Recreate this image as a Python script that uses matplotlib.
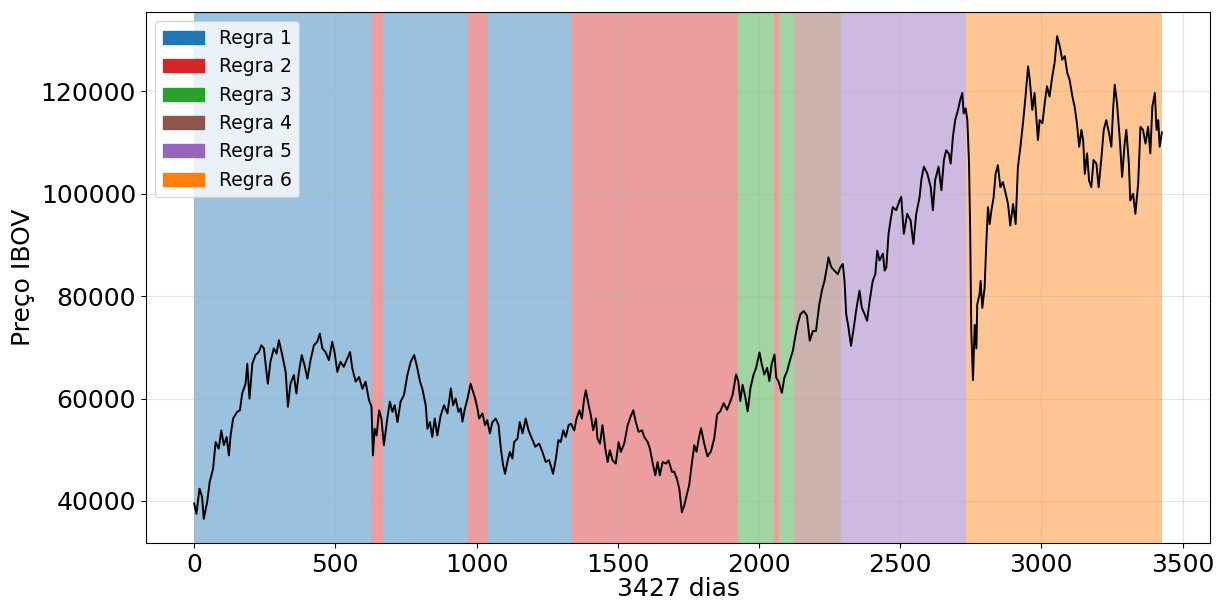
import matplotlib
matplotlib.use("Agg")
import matplotlib.pyplot as plt
from matplotlib.patches import Patch

# IBOV closing price sampled along the 3427-day window
days = [
    0, 8, 19, 28, 34, 46, 55, 67, 76, 87, 96, 105, 115, 123, 129, 138, 152, 162, 170, 182,
    188, 196, 206, 217, 229, 238, 247, 256, 261, 270, 282, 292, 300, 312, 324, 332, 341, 353,
    362, 371, 381, 391, 401, 412, 424, 436, 445, 454, 465, 477, 489, 497, 507, 518, 530, 542,
    552, 560, 572, 584, 596, 607, 619, 628, 633, 639, 646, 655, 663, 672, 684, 693, 702, 710,
    720, 731, 743, 755, 767, 779, 788, 800, 808, 820, 826, 835, 843, 852, 861, 873, 885, 897,
    909, 917, 926, 936, 944, 950, 959, 968, 979, 988, 995, 1003, 1009, 1021, 1030, 1038, 1047,
    1056, 1068, 1078, 1086, 1094, 1101, 1109, 1118, 1127, 1133, 1145, 1153, 1163, 1174, 1184,
    1196, 1208, 1222, 1233, 1245, 1257, 1271, 1281, 1290, 1298, 1307, 1316, 1326, 1334, 1346,
    1354, 1364, 1373, 1381, 1387, 1397, 1405, 1413, 1423, 1428, 1437, 1446, 1456, 1464, 1472,
    1482, 1493, 1503, 1511, 1523, 1535, 1547, 1555, 1564, 1574, 1586, 1594, 1606, 1614, 1623,
    1633, 1641, 1649, 1659, 1671, 1680, 1692, 1700, 1709, 1718, 1727, 1736, 1744, 1753, 1763,
    1771, 1779, 1787, 1795, 1807, 1818, 1830, 1842, 1852, 1863, 1875, 1887, 1899, 1907, 1919,
    1927, 1934, 1942, 1951, 1960, 1970, 1981, 1990, 2002, 2010, 2019, 2029, 2037, 2045, 2055,
    2061, 2069, 2081, 2090, 2100, 2111, 2120, 2128, 2137, 2147, 2159, 2170, 2180, 2191, 2202,
    2214, 2223, 2232, 2241, 2246, 2256, 2267, 2279, 2289, 2297, 2303, 2309, 2317, 2326, 2336,
    2344, 2356, 2364, 2374, 2383, 2392, 2403, 2412, 2419, 2427, 2439, 2445, 2451, 2459, 2466,
    2474, 2486, 2498, 2504, 2513, 2525, 2537, 2547, 2557, 2569, 2575, 2584, 2596, 2608, 2616,
    2624, 2636, 2646, 2655, 2663, 2672, 2679, 2687, 2695, 2705, 2713, 2720, 2725, 2732, 2738,
    2744, 2748, 2752, 2758, 2764, 2770, 2773, 2781, 2785, 2791, 2799, 2805, 2811, 2817, 2823,
    2831, 2838, 2846, 2855, 2864, 2874, 2882, 2890, 2900, 2909, 2917, 2926, 2935, 2944, 2953,
    2959, 2968, 2976, 2982, 2988, 2994, 3004, 3012, 3020, 3029, 3039, 3047, 3056, 3065, 3074,
    3083, 3092, 3100, 3110, 3118, 3126, 3134, 3142, 3148, 3154, 3162, 3169, 3177, 3185, 3195,
    3203, 3213, 3221, 3230, 3240, 3248, 3254, 3260, 3268, 3278, 3286, 3295, 3301, 3310, 3315,
    3325, 3333, 3343, 3351, 3360, 3369, 3378, 3386, 3393, 3402, 3408, 3414, 3419, 3427,
]
prices = [
    39500, 37500, 42400, 40800, 36500, 39800, 43700, 46300, 51500, 50200, 53800, 50900, 52500,
    48900, 52800, 56100, 57400, 57700, 61000, 62900, 66800, 60000, 66800, 68500, 69100, 70400,
    69800, 65200, 62900, 67200, 69800, 68800, 71400, 68500, 65200, 58400, 62900, 64600, 61000,
    65200, 68500, 66500, 63900, 67500, 70400, 71100, 72700, 69800, 69100, 67500, 71100, 69100,
    65200, 67200, 66200, 67800, 69100, 65900, 63300, 64200, 61900, 63300, 59700, 58400, 48900,
    54100, 52800, 57700, 56100, 50900, 56100, 59400, 57400, 58700, 55400, 59400, 60700, 64600,
    67200, 68500, 66500, 63300, 61900, 58700, 54100, 55400, 52500, 56100, 52800, 56700, 58700,
    57100, 62000, 58700, 60000, 57400, 58100, 55500, 58100, 60000, 62900, 61300, 60000, 58100,
    56100, 57100, 54800, 55800, 53200, 55400, 56100, 54800, 50200, 47000, 45300, 47600, 49600,
    48300, 51500, 52200, 55400, 53200, 56100, 53800, 52200, 50600, 51200, 49600, 47600, 48000,
    45300, 48300, 51900, 51500, 53800, 52500, 54800, 55100, 53800, 56100, 57700, 56100, 60000,
    61600, 58700, 56700, 53800, 56100, 52200, 51200, 54800, 50200, 47600, 49900, 47900, 47300,
    51500, 49600, 51200, 54800, 56700, 57700, 55400, 53500, 53800, 52500, 51500, 50200, 47600,
    45000, 47600, 45000, 47600, 47300, 47900, 45700, 45700, 44400, 42400, 37800, 39200, 41100,
    43100, 47600, 50900, 49600, 52200, 54200, 51000, 48700, 49700, 52300, 56900, 57500, 59100,
    57800, 59500, 60800, 64700, 63400, 59500, 62700, 60500, 57500, 62100, 64700, 66000, 69000,
    66700, 64700, 66000, 63400, 66700, 68600, 64100, 63400, 61100, 64100, 65400, 67700, 69300,
    71900, 74500, 76500, 77100, 76200, 71300, 73200, 73200, 78500, 81100, 83000, 85700, 87600,
    85700, 85000, 84300, 85700, 86300, 83000, 76500, 73900, 70300, 73900, 77100, 81100, 77800,
    76500, 75200, 79100, 83000, 84300, 88900, 87000, 88300, 85000, 85600, 92200, 94800, 97400,
    96800, 98700, 99400, 92200, 96100, 94800, 90200, 96100, 99400, 102700, 105300, 104000,
    101400, 96800, 102700, 105300, 100700, 106600, 108500, 107900, 105900, 111200, 114400,
    116400, 118400, 119700, 115700, 116700, 114400, 105900, 92800, 73100, 63600, 74400, 69800,
    78400, 80300, 83000, 77700, 81600, 90200, 97400, 94100, 96700, 99300, 103900, 105600,
    101300, 102300, 100000, 98000, 93800, 98000, 94100, 105200, 109200, 113800, 119000, 124900,
    122300, 116400, 119700, 115100, 110500, 114400, 113800, 117700, 121000, 119000, 123000,
    125600, 130800, 128900, 126200, 126900, 123600, 122300, 119000, 117000, 113800, 109200,
    112500, 110500, 103900, 107900, 102600, 101300, 106600, 105900, 101300, 107200, 112500,
    114400, 111800, 109200, 116400, 121300, 117700, 110500, 103300, 109800, 112500, 105900,
    98700, 100000, 96100, 102000, 113100, 112500, 109800, 113100, 107900, 117000, 119700,
    112500, 114400, 109200, 112000,
]

# Trading-rule regimes: start day, end day, rule number
regime_start = [0, 625, 667, 968, 1039, 1337, 1925, 2052, 2071, 2123, 2291, 2734]
regime_end = [625, 667, 968, 1039, 1337, 1925, 2052, 2071, 2123, 2291, 2734, 3427]
regime_rule = [1, 2, 1, 2, 1, 2, 3, 2, 3, 4, 5, 6]

rule_labels = ["Regra 1", "Regra 2", "Regra 3", "Regra 4", "Regra 5", "Regra 6"]
rule_colors = ["tab:blue", "tab:red", "tab:green", "tab:brown", "tab:purple", "tab:orange"]

fig = plt.figure(figsize=(12.25, 6.01), dpi=100)
ax = fig.add_axes([0.119, 0.0965, 0.869, 0.8835])

for s, e, r in zip(regime_start, regime_end, regime_rule):
    ax.axvspan(s, e, color=rule_colors[r - 1], alpha=0.45, lw=0)

ax.plot(days, prices, color="black", lw=1.4, zorder=3)

ax.grid(True, alpha=0.35)
ax.set_xlabel("3427 dias", fontsize=18, labelpad=0)
ax.set_ylabel("Preço IBOV", fontsize=18)
ax.tick_params(labelsize=18)
ax.set_xticks([0, 500, 1000, 1500, 2000, 2500, 3000, 3500])

handles = [Patch(color=c, label=l) for c, l in zip(rule_colors, rule_labels)]
ax.legend(handles=handles, loc="upper left", fontsize=13.5, handlelength=2.2)

fig.savefig("out.png", dpi=100)
